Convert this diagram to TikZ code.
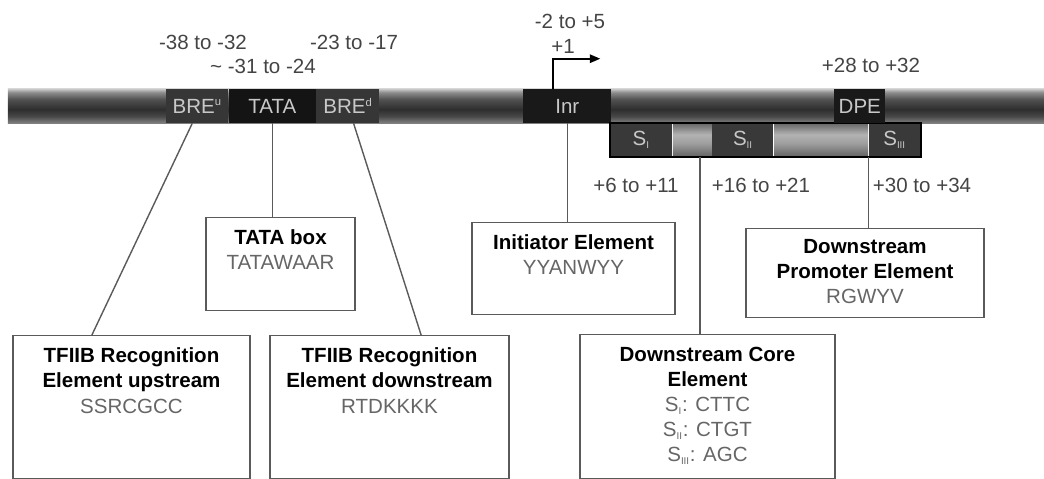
\documentclass[tikz,border=0pt]{standalone}
\usepackage{fontspec}
\setmainfont{Liberation Sans}
\usepackage{tikz}
\usetikzlibrary{arrows.meta,positioning}

\definecolor{lblgray}{HTML}{444444}
\definecolor{seqgray}{HTML}{666666}
\definecolor{segtext}{HTML}{C8C8C8}
\definecolor{bregray}{HTML}{363636}
\definecolor{coregray}{HTML}{393939}
\definecolor{linegray}{HTML}{5A5A5A}

\pgfdeclareverticalshading{tube}{100bp}{color(0bp)=(black!50); color(25bp)=(black!50); color(35bp)=(black!72); color(45bp)=(black!82); color(60bp)=(black!68); color(70bp)=(black!45); color(75bp)=(black!22); color(100bp)=(black!22)}
\pgfdeclareverticalshading{gapfill}{100bp}{color(0bp)=(black!62); color(25bp)=(black!62); color(45bp)=(black!38); color(58bp)=(black!30); color(75bp)=(black!60); color(100bp)=(black!60)}

\newcommand{\romsub}[1]{\textsubscript{\fontsize{7}{7}\selectfont #1}}
\newcommand{\bresup}[1]{\textsuperscript{\fontsize{8}{8}\selectfont #1}}

\begin{document}
\begin{tikzpicture}[x=0.025cm, y=-0.025cm,
  font=\fontsize{14.6}{17.8}\selectfont,
  seg/.style={rectangle, inner sep=0pt, minimum height=0.85cm, text=segtext, anchor=west},
  descbox/.style={draw=linegray, line width=1pt, inner sep=0pt, anchor=north},
  boxtxt/.style={align=center, inner sep=0pt, anchor=north},
  lbl/.style={text=lblgray, inner sep=0pt},
  link/.style={draw=linegray, line width=1pt},
  tss/.style={line width=1.3pt, -{Triangle[length=7.5pt,width=6pt]}}
]
\useasboundingbox (0,0) rectangle (1044,479);

\node[rectangle, inner sep=0pt, shading=tube, minimum width=25.9cm, minimum height=0.85cm] (dna) at (526,106) {};

\node[seg, fill=bregray, minimum width=1.55cm] (breu) at (166,106) {BRE\bresup{u}};
\node[seg, fill=black!92, minimum width=2.175cm, right=0pt of breu] (tata) {TATA};
\node[seg, fill=bregray, minimum width=1.575cm, right=0pt of tata] (bred) {BRE\bresup{d}};
\node[seg, fill=black!90, minimum width=2.2cm] (inr) at (523,106) {Inr};

\node[seg, fill=coregray, minimum width=1.55cm] (s1) at (610,140) {S\romsub{I}};
\node[seg, shading=gapfill, minimum width=0.975cm, right=0pt of s1] (gapa) {};
\node[seg, fill=coregray, minimum width=1.525cm, right=0pt of gapa] (s2) {S\romsub{II}};
\node[seg, shading=gapfill, minimum width=2.35cm, right=0pt of s2] (gapb) {};
\node[seg, fill=coregray, minimum width=1.3cm, right=0pt of gapb] (s3) {S\romsub{III}};
\draw[line width=1.4pt] (s1.north west) rectangle (s3.south east);

\node[seg, fill=black!90, minimum width=1.275cm] (dpe) at (834,106) {DPE};

\draw[tss] ([xshift=-0.35cm]inr.north) |- ++(47,-30);

\node[lbl] (l38) at (203,42) {-38 to -32};
\node[lbl] (l31) at (263,66) {\textasciitilde\ -31 to -24};
\node[lbl] (l23) at (354,42) {-23 to -17};
\node[lbl] (l2) at (570,21) {-2 to +5};
\node[lbl] (lone) at (563,46) {+1};
\node[lbl] (l28) at (871,65) {+28 to +32};
\node[lbl] (l6) at (636,185) {+6 to +11};
\node[lbl] (l16) at (761,185) {+16 to +21};
\node[lbl] (l30) at (922,185) {+30 to +34};

\node[descbox, minimum width=5.925cm, minimum height=3.575cm] (bupbox) at (131.5,335) {};
\node[boxtxt] (buptxt) at ([yshift=-0.32cm]bupbox.north) {\textbf{TFIIB Recognition}\\\textbf{Element upstream}\\\textcolor{seqgray}{SSRCGCC}};
\node[descbox, minimum width=3.725cm, minimum height=2.325cm] (tatabox) at (280.5,217) {};
\node[boxtxt] (tatatxt) at ([yshift=-0.32cm]tatabox.north) {\textbf{TATA box}\\\textcolor{seqgray}{TATAWAAR}};
\node[descbox, minimum width=5.975cm, minimum height=3.575cm] (bdnbox) at (389.5,335) {};
\node[boxtxt] (bdntxt) at ([yshift=-0.32cm]bdnbox.north) {\textbf{TFIIB Recognition}\\\textbf{Element downstream}\\\textcolor{seqgray}{RTDKKKK}};
\node[descbox, minimum width=5.075cm, minimum height=2.3cm] (initbox) at (573.5,222) {};
\node[boxtxt] (inittxt) at ([yshift=-0.32cm]initbox.north) {\textbf{Initiator Element}\\\textcolor{seqgray}{YYANWYY}};
\node[descbox, minimum width=6.375cm, minimum height=3.6cm] (dcebox) at (707.5,334) {};
\node[boxtxt] (dcetxt) at ([yshift=-0.32cm]dcebox.north) {\textbf{Downstream Core}\\\textbf{Element}\\\textcolor{seqgray}{S\romsub{I}: CTTC}\\\textcolor{seqgray}{S\romsub{II}: CTGT}\\\textcolor{seqgray}{S\romsub{III}: AGC}};
\node[descbox, minimum width=5.95cm, minimum height=2.225cm] (dpebox) at (865,228) {};
\node[boxtxt] (dpetxt) at ([yshift=-0.28cm]dpebox.north) {\textbf{Downstream}\\\textbf{Promoter Element}\\\textcolor{seqgray}{RGWYV}};

\coordinate (dcetop) at ([xshift=0.19cm]gapa.south);
\draw[link] ([xshift=-0.125cm]breu.south) -- ([xshift=-0.99cm]bupbox.north);
\draw[link] (tata.south) -- (tata.south |- tatabox.north);
\draw[link] ([xshift=0.14cm]bred.south) -- ([xshift=0.79cm]bdnbox.north);
\draw[link] (inr.south) -- (inr.south |- initbox.north);
\draw[link] (dcetop) -- (dcetop |- dcebox.north);
\draw[link] (s3.south west) -- (s3.south west |- dpebox.north);
\end{tikzpicture}
\end{document}
